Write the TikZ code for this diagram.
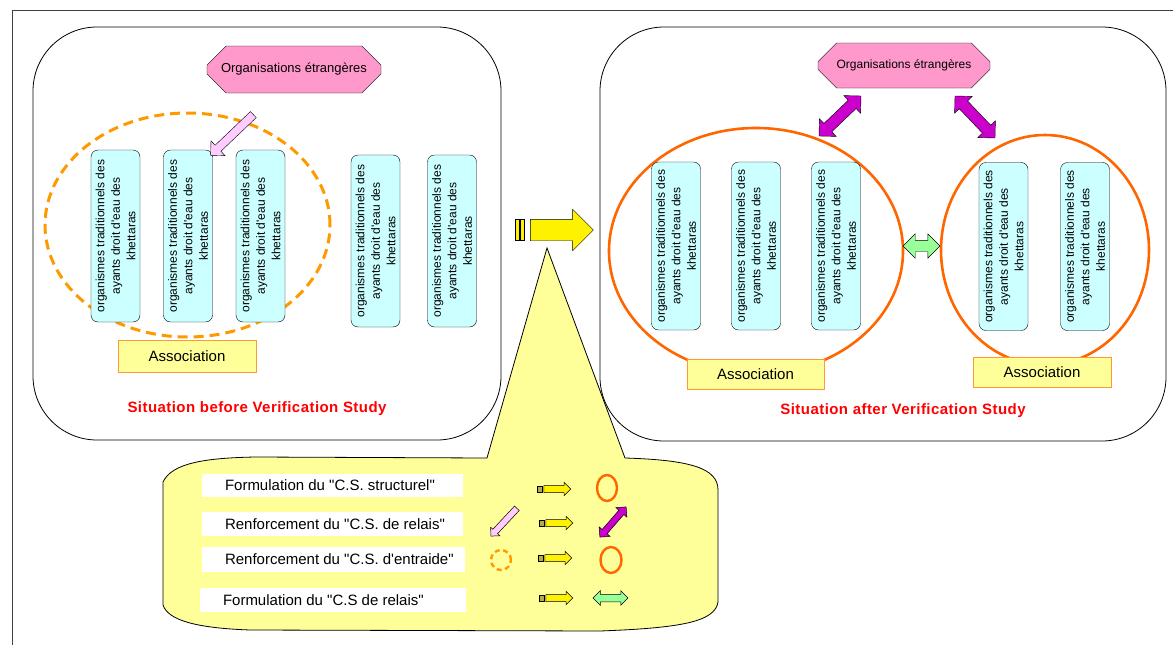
\documentclass[tikz,border=0pt]{standalone}
\usepackage{fontspec}
\setmainfont{Liberation Sans}[Ligatures=TeXOff]
\usetikzlibrary{positioning,shapes.misc,shapes.arrows,shapes.geometric}

\definecolor{organcyan}{HTML}{CCFFFF}
\definecolor{etrpink}{HTML}{FF99CC}
\definecolor{relaispink}{HTML}{FFCCFF}
\definecolor{liensmagenta}{HTML}{CC00CC}
\definecolor{entraidegreen}{HTML}{99FF99}
\definecolor{noteyellow}{HTML}{FFFF99}
\definecolor{assocorange}{HTML}{FF9933}
\definecolor{dashorange}{HTML}{FF9900}
\definecolor{ringorange}{HTML}{FF6600}
\definecolor{framegray}{HTML}{404040}
\definecolor{stripeolive}{HTML}{B0B040}

\tikzset{
  organisme/.style={draw,fill=organcyan,rounded corners=7pt,rotate=90,
    minimum width=172pt,minimum height=49pt,inner sep=0pt,align=center,
    font=\fontsize{12}{15.5}\selectfont},
  etrangere/.style={chamfered rectangle,chamfered rectangle xsep=13pt,chamfered rectangle ysep=13pt,
    draw,fill=etrpink,inner sep=0pt,font=\fontsize{13}{16}\selectfont},
  assoc/.style={draw=assocorange,line width=1pt,fill=noteyellow,inner sep=0pt,
    font=\fontsize{15}{17}\selectfont},
  titre/.style={text=red,font=\fontsize{15}{18}\bfseries\addfontfeature{LetterSpace=3}},
  cadre/.style={draw,line width=0.8pt,rounded corners=64pt},
  groupe/.style={ellipse,draw=ringorange,line width=2.6pt,inner sep=0pt},
  groupedash/.style={ellipse,draw=dashorange,line width=3pt,dash pattern=on 10pt off 6pt,inner sep=0pt},
  relais/.style={single arrow,draw,fill=relaispink,single arrow head indent=0pt},
  liens/.style={double arrow,draw,fill=liensmagenta,double arrow head indent=0pt},
  entraide/.style={double arrow,draw,fill=entraidegreen,double arrow head indent=0pt},
  passe/.style={single arrow,draw,fill=yellow,single arrow head indent=0pt},
  legende/.style={fill=white,inner sep=0pt,font=\fontsize{15}{17}\selectfont},
}

\begin{document}
\begin{tikzpicture}[x=1pt,y=-1pt,node distance=72.5pt,on grid]
\useasboundingbox (0,0) rectangle (1173,645);
\draw[framegray,line width=1pt] (12,645) -- (12,10) -- (1173,10);

\draw[cadre] (33,27) rectangle (501,440);
\draw[cadre] (600,27) rectangle (1166,441);

% before
\node[groupedash,minimum width=285pt,minimum height=224pt] (grpAvant) at (187.5,225) {};
\node[organisme] (o1) at (115.5,236) {organismes traditionnels des\\ayants droit d'eau des\\khettaras};
\node[organisme] (o2) [right=of o1] {organismes traditionnels des\\ayants droit d'eau des\\khettaras};
\node[organisme] (o3) [right=of o2] {organismes traditionnels des\\ayants droit d'eau des\\khettaras};
\node[organisme] (o4) at (375.5,241) {organismes traditionnels des\\ayants droit d'eau des\\khettaras};
\node[organisme] (o5) [right=76.5pt of o4] {organismes traditionnels des\\ayants droit d'eau des\\khettaras};
\node[assoc,minimum width=138pt,minimum height=32pt] (asAvant) at (187,356) {Association};
\node[etrangere,minimum width=174pt,minimum height=47pt] (etrAvant) at (294,69.5) {Organisations étrangères};
\node[relais,minimum height=59pt,inner sep=4pt,single arrow head extend=6pt,rotate=223.6] (relaisAvant) at (233.5,133.5) {};
\node[titre] (titreAvant) at (257,409) {Situation before Verification Study};

% after
\node[groupe,minimum width=294pt,minimum height=246pt] (grpG) at (756,251) {};
\node[groupe,minimum width=208pt,minimum height=230pt] (grpD) at (1045,250) {};
\node[organisme,minimum width=168pt] (oA) at (676,246) {organismes traditionnels des\\ayants droit d'eau des\\khettaras};
\node[organisme,minimum width=168pt] (oB) [right=80pt of oA] {organismes traditionnels des\\ayants droit d'eau des\\khettaras};
\node[organisme,minimum width=168pt] (oC) [right=80pt of oB] {organismes traditionnels des\\ayants droit d'eau des\\khettaras};
\node[organisme,minimum width=168pt] (oD) at (1003.5,246.5) {organismes traditionnels des\\ayants droit d'eau des\\khettaras};
\node[organisme,minimum width=168pt] (oE) [right=81.5pt of oD] {organismes traditionnels des\\ayants droit d'eau des\\khettaras};
\node[assoc,minimum width=137pt,minimum height=30pt] (asG) at (755.5,374) {Association};
\node[assoc,minimum width=138pt,minimum height=30pt] (asD) at (1042,372) {Association};
\node[etrangere,minimum width=172pt,minimum height=45pt,font=\fontsize{12}{15}\selectfont] (etrApres) at (904,65.5) {Organisations étrangères};
\node[liens,minimum height=58pt,inner sep=5.5pt,double arrow head extend=6.5pt,rotate=43.6] (liensG) at (840,116) {};
\node[liens,minimum height=58pt,inner sep=5.5pt,double arrow head extend=6.5pt,rotate=-46.4] (liensD) at (975,117) {};
\node[entraide,minimum height=37pt,inner sep=5.5pt,double arrow head extend=6.5pt] (entraideGD) at (921.5,246) {};
\node[titre] (titreApres) at (903,411) {Situation after Verification Study};

% passage
\draw[fill=yellow] (515,219.5) rectangle (519.5,240.5);
\draw[fill=yellow] (520,219.5) rectangle (524.5,240.5);
\node[passe,minimum height=63pt,inner sep=10.5pt,single arrow head extend=10pt] (passage) at (556.5,230) {};

% legend
\draw[fill=noteyellow,line width=0.8pt] (163,482) .. controls (172,463) and (205,458) .. (255,457)
  -- (487,458) -- (547,248) -- (625,458) .. controls (690,460) and (718,468) .. (718,490)
  -- (718,602) .. controls (715,622) and (680,628) .. (600,631)
  -- (250,630) .. controls (195,628) and (168,620) .. (163,605) -- cycle;

\node[legende,minimum width=261pt,minimum height=23pt] (ligne1) at (332.5,485.5) {\makebox[215pt][l]{Formulation du "C.S. structurel"}};
\node[legende,minimum width=261pt,minimum height=24pt] (ligne2) at (332.5,524) {\makebox[215pt][l]{Renforcement du "C.S. de relais"}};
\node[legende,minimum width=263pt,minimum height=25pt] (ligne3) at (333.5,559.5) {\makebox[217pt][l]{Renforcement du "C.S. d'entraide"}};
\node[legende,minimum width=266pt,minimum height=24pt] (ligne4) at (333,600) {\makebox[220pt][l]{Formulation du "C.S de relais"}};

\foreach \y/\x/\n in {489/537/1,523/539/2,558/538/3,598/539/4}{
  \draw[fill=stripeolive,line width=0.5pt] (\x,\y-3.25) rectangle (\x+5,\y+3.25);
  \node[passe,minimum height=27pt,inner sep=3.25pt,single arrow head extend=3.25pt,line width=0.5pt] (petitepasse\n) at (\x+18.5,\y) {};
}
\node[groupe,line width=2.4pt,minimum width=20pt,minimum height=26pt] (anneau1) at (607,488) {};
\node[relais,minimum height=38pt,inner sep=3pt,single arrow head extend=3pt,line width=0.5pt,rotate=227] (relais2) at (505,521) {};
\node[liens,minimum height=40pt,inner sep=3pt,double arrow head extend=4pt,line width=0.5pt,rotate=49] (liens2) at (613,522) {};
\node[groupedash,line width=2.4pt,dash pattern=on 5pt off 3.5pt,minimum width=20pt,minimum height=20pt] (pointille3) at (501,560) {};
\node[groupe,line width=2.4pt,minimum width=21pt,minimum height=26pt] (anneau3) at (611,560) {};
\node[entraide,minimum height=35pt,inner sep=3.5pt,double arrow head extend=3.5pt,line width=0.5pt] (entraide4) at (610.5,598) {};
\end{tikzpicture}
\end{document}
